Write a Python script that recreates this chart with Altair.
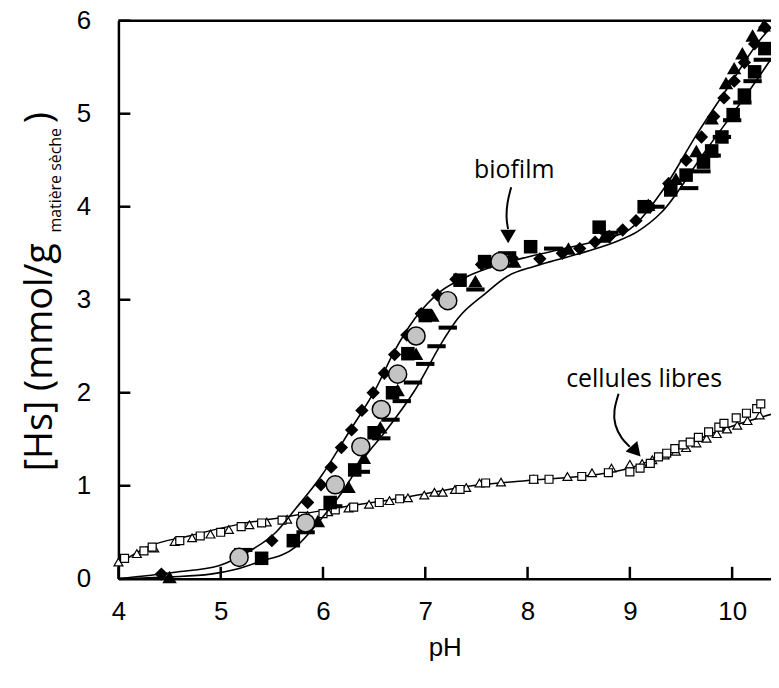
import altair as alt
import pandas as pd

# ---------------- data ----------------
X_TICKS = [4, 5, 6, 7, 8, 9, 10]
Y_TICKS = [0, 1, 2, 3, 4, 5, 6]

# free cells (cellules libres): open triangles
fc_tri_ph = [4.0, 4.18, 4.35, 4.55, 4.72, 4.9, 5.08, 5.28, 5.45, 5.65, 5.85, 6.05, 6.25, 6.45,
             6.65, 6.83, 6.99, 7.09, 7.17, 7.29, 7.4, 7.53, 7.74, 8.06, 8.39, 8.63, 8.82, 9.0,
             9.12, 9.22, 9.34, 9.45, 9.55, 9.65, 9.75, 9.85, 9.95, 10.05, 10.15, 10.27]
fc_tri_v = [0.18, 0.27, 0.33, 0.4, 0.44, 0.48, 0.53, 0.58, 0.61, 0.64, 0.68, 0.72, 0.76, 0.8,
            0.84, 0.87, 0.9, 0.93, 0.93, 0.96, 0.98, 1.03, 1.04, 1.07, 1.1, 1.14, 1.19, 1.23,
            1.24, 1.28, 1.33, 1.37, 1.41, 1.46, 1.51, 1.56, 1.61, 1.65, 1.7, 1.76]
# free cells: open squares
fc_sq_ph = [4.06, 4.25, 4.33, 4.6, 4.8, 5.0, 5.2, 5.4, 5.6, 5.8, 6.0, 6.12, 6.3, 6.55, 6.75,
            7.34, 7.59, 8.06, 8.21, 8.53, 8.79, 9.0, 9.1, 9.2, 9.28, 9.36, 9.44, 9.52, 9.59,
            9.67, 9.77, 9.87, 9.92, 10.04, 10.14, 10.24, 10.28]
fc_sq_v = [0.22, 0.3, 0.34, 0.41, 0.46, 0.5, 0.56, 0.6, 0.63, 0.67, 0.7, 0.74, 0.77, 0.82, 0.86,
           0.96, 1.03, 1.07, 1.07, 1.1, 1.14, 1.15, 1.19, 1.24, 1.31, 1.35, 1.4, 1.44, 1.47,
           1.52, 1.58, 1.63, 1.67, 1.73, 1.78, 1.83, 1.88]
# free cells: model curve
fc_line_ph = [4.0, 4.3, 4.69, 5.2, 5.66, 6.18, 6.83, 7.39, 8.03, 8.68, 9.0, 9.33, 9.82, 10.42]
fc_line_v = [0.16, 0.35, 0.46, 0.59, 0.67, 0.77, 0.88, 0.99, 1.06, 1.12, 1.19, 1.33, 1.57, 1.78]

# biofilm: filled diamonds
bf_dia_ph = [4.42, 5.5, 5.85, 5.98, 6.08, 6.18, 6.28, 6.38, 6.49, 6.6, 6.7, 6.82, 6.96, 7.12,
             7.3, 7.55, 7.85, 8.12, 8.34, 8.51, 8.66, 8.8, 8.93, 9.06, 9.2, 9.38, 9.55, 9.7,
             9.82, 9.92, 10.02, 10.12, 10.22, 10.32]
bf_dia_v = [0.05, 0.41, 0.82, 1.01, 1.2, 1.41, 1.6, 1.81, 2.0, 2.21, 2.41, 2.62, 2.85, 3.05,
            3.22, 3.38, 3.45, 3.44, 3.5, 3.55, 3.62, 3.68, 3.75, 3.85, 4.0, 4.25, 4.5, 4.75,
            4.97, 5.17, 5.35, 5.55, 5.75, 5.93]
# biofilm: filled squares
bf_sq_ph = [5.4, 5.71, 6.07, 6.31, 6.5, 6.68, 6.83, 7.0, 7.34, 7.58, 8.03, 8.7, 9.14, 9.4,
            9.55, 9.72, 9.8, 9.9, 10.01, 10.12, 10.22, 10.32]
bf_sq_v = [0.22, 0.41, 0.82, 1.17, 1.57, 2.0, 2.42, 2.83, 3.21, 3.41, 3.57, 3.78, 4.0, 4.18,
           4.34, 4.48, 4.6, 4.75, 4.99, 5.2, 5.45, 5.7]
# biofilm: filled triangles
bf_tri_ph = [4.5, 5.95, 6.25, 6.4, 6.56, 6.73, 6.91, 7.07, 7.49, 7.87, 8.4, 8.75, 9.18, 9.45,
             9.65, 9.8, 9.94, 10.02, 10.1, 10.2, 10.31]
bf_tri_v = [0.02, 0.62, 0.99, 1.3, 1.63, 2.03, 2.42, 2.83, 3.2, 3.41, 3.55, 3.68, 4.02, 4.3,
            4.6, 4.95, 5.33, 5.49, 5.65, 5.84, 5.95]
# biofilm: grey circles
bf_circ_ph = [5.18, 5.83, 6.12, 6.37, 6.57, 6.73, 6.91, 7.22, 7.73]
bf_circ_v = [0.23, 0.6, 1.01, 1.42, 1.82, 2.2, 2.61, 2.99, 3.41]
# biofilm: dashes
bf_dash_ph = [5.22, 5.83, 6.1, 6.37, 6.57, 6.66, 6.77, 6.88, 7.0, 7.11, 7.22, 7.49, 7.8, 8.25,
              8.8, 9.25, 9.58, 9.7, 9.8, 9.9, 10.0, 10.1, 10.2, 10.3]
bf_dash_v = [0.31, 0.5, 0.78, 1.15, 1.51, 1.71, 1.91, 2.11, 2.31, 2.5, 2.7, 3.11, 3.5, 3.55,
             3.72, 4.0, 4.2, 4.38, 4.55, 4.75, 4.93, 5.12, 5.35, 5.58]
# biofilm: model curves (upper and lower)
bf_up_ph = [4.0, 4.55, 4.98, 5.27, 5.54, 5.73, 5.98, 6.25, 6.51, 6.7, 6.9, 7.15, 7.41, 7.7,
            8.0, 8.36, 8.7, 9.0, 9.33, 9.65, 9.97, 10.3, 10.42]
bf_up_v = [0.0, 0.07, 0.14, 0.29, 0.5, 0.75, 1.1, 1.57, 2.03, 2.45, 2.8, 3.09, 3.25, 3.37,
           3.46, 3.55, 3.64, 3.76, 4.19, 4.77, 5.3, 5.83, 5.97]
bf_lo_ph = [4.0, 4.5, 4.9, 5.18, 5.37, 5.73, 5.98, 6.18, 6.41, 6.6, 6.9, 7.19, 7.32, 7.58,
            7.8, 8.07, 8.29, 8.58, 8.9, 9.07, 9.31, 9.72, 10.22, 10.43]
bf_lo_v = [0.0, 0.02, 0.05, 0.11, 0.18, 0.34, 0.64, 0.92, 1.31, 1.57, 2.03, 2.59, 2.8, 3.06,
           3.25, 3.36, 3.43, 3.52, 3.64, 3.73, 3.94, 4.57, 5.33, 5.67]

# annotations
ann_text = ["biofilm", "cellules libres"]
ann_ph = [7.87, 9.14]
ann_v = [4.39, 2.15]
arrow1_ph = [7.84, 7.80, 7.79, 7.81]
arrow1_v = [4.21, 4.05, 3.87, 3.76]
arrow2_ph = [8.89, 8.84, 8.85, 8.92, 9.0]
arrow2_v = [1.99, 1.81, 1.65, 1.5, 1.42]
head_ph = [7.81, 9.06]
head_v = [3.68, 1.37]
head_angle = [0, 318]

# ---------------- chart ----------------
W, H = 656, 561
TICK_FONT = "Liberation Sans"
TEXT_FONT = "Open Sans"


def frame(ph, v, **extra):
    d = pd.DataFrame({"pH": ph, "Hs": v})
    for k, val in extra.items():
        d[k] = val
    return d


xs = alt.Scale(domain=[4, 10.38], nice=False, zero=False)
ys = alt.Scale(domain=[0, 6], nice=False, zero=False)
X = alt.X("pH:Q", scale=xs,
          axis=alt.Axis(values=X_TICKS, title="pH", ticks=False, grid=False,
                        labelFont=TICK_FONT, labelFontSize=26, labelColor="black",
                        labelPadding=20, labelFlush=False,
                        titleFont=TICK_FONT, titleFontSize=26, titleFontWeight="normal",
                        titleColor="black", titlePadding=10,
                        domainColor="black", domainWidth=2.5))
Y = alt.Y("Hs:Q", scale=ys,
          axis=alt.Axis(values=Y_TICKS, title=None, ticks=False, grid=False,
                        labelFont=TICK_FONT, labelFontSize=26, labelColor="black",
                        labelPadding=28, labelFlush=False,
                        domainColor="black", domainWidth=2.5))

one = pd.DataFrame({"k": [0]})

fc_line = alt.Chart(frame(fc_line_ph, fc_line_v)).mark_line(
    color="black", strokeWidth=1.5, interpolate="monotone").encode(x=X, y=Y)
fc_tri = alt.Chart(frame(fc_tri_ph, fc_tri_v)).mark_point(
    shape="triangle-up", size=80, filled=True, fill="white", stroke="black",
    strokeWidth=1.2, opacity=1).encode(x=X, y=Y)
fc_sq = alt.Chart(frame(fc_sq_ph, fc_sq_v)).mark_point(
    shape="square", size=64, filled=True, fill="white", stroke="black",
    strokeWidth=1.2, opacity=1).encode(x=X, y=Y)

bf_up = alt.Chart(frame(bf_up_ph, bf_up_v)).mark_line(
    color="black", strokeWidth=1.6, interpolate="monotone").encode(x=X, y=Y)
bf_lo = alt.Chart(frame(bf_lo_ph, bf_lo_v)).mark_line(
    color="black", strokeWidth=1.6, interpolate="monotone").encode(x=X, y=Y)

DASH = "M-1,-0.22L1,-0.22L1,0.22L-1,0.22Z"
bf_dash = alt.Chart(frame(bf_dash_ph, bf_dash_v)).mark_point(
    shape=DASH, size=340, filled=True, color="black", opacity=1).encode(x=X, y=Y)
bf_sq = alt.Chart(frame(bf_sq_ph, bf_sq_v)).mark_point(
    shape="square", size=185, filled=True, color="black", opacity=1).encode(x=X, y=Y)
bf_tri = alt.Chart(frame(bf_tri_ph, bf_tri_v)).mark_point(
    shape="triangle-up", size=210, filled=True, color="black", opacity=1).encode(x=X, y=Y)
bf_dia = alt.Chart(frame(bf_dia_ph, bf_dia_v)).mark_point(
    shape="diamond", size=180, filled=True, color="black", opacity=1).encode(x=X, y=Y)
bf_circ = alt.Chart(frame(bf_circ_ph, bf_circ_v)).mark_point(
    shape="circle", size=330, filled=True, fill="#c4c4c4", stroke="black",
    strokeWidth=1.5, opacity=1).encode(x=X, y=Y)

ann = alt.Chart(frame(ann_ph, ann_v, label=ann_text)).mark_text(
    font=TEXT_FONT, fontSize=25, color="black", align="center", baseline="middle"
).encode(x=X, y=Y, text="label:N")
arrow1 = alt.Chart(frame(arrow1_ph, arrow1_v, o=list(range(len(arrow1_ph))))).mark_line(
    color="black", strokeWidth=2, interpolate="basis").encode(x=X, y=Y, order="o:Q")
arrow2 = alt.Chart(frame(arrow2_ph, arrow2_v, o=list(range(len(arrow2_ph))))).mark_line(
    color="black", strokeWidth=2, interpolate="basis").encode(x=X, y=Y, order="o:Q")
heads = alt.Chart(frame(head_ph, head_v, a=head_angle)).mark_point(
    shape="triangle-down", size=250, filled=True, color="black", opacity=1
).encode(x=X, y=Y, angle=alt.Angle("a:Q", scale=None))

# frame pieces: top border and inward ticks
top_border = alt.Chart(one).mark_rule(color="black", strokeWidth=2.5).encode(
    x=alt.value(0), x2=alt.value(W), y=alt.value(0))
xt = alt.Chart(pd.DataFrame({"pH": X_TICKS})).mark_rule(color="black", strokeWidth=2.5).encode(
    x=X, y=alt.value(H), y2=alt.value(H - 12))
yt = alt.Chart(pd.DataFrame({"Hs": Y_TICKS})).mark_rule(color="black", strokeWidth=2.5).encode(
    y=Y, x=alt.value(0), x2=alt.value(12))

# y-axis title with subscript
TX = -67
t_main = alt.Chart(one).mark_text(
    text="[Hs] (mmol/g", font=TEXT_FONT, fontSize=38, angle=270, align="left",
    baseline="alphabetic", color="black").encode(x=alt.value(TX), y=alt.value(453))
t_sub = alt.Chart(one).mark_text(
    text="matière sèche", font=TEXT_FONT, fontSize=16, angle=270, align="left",
    baseline="alphabetic", color="black").encode(x=alt.value(TX + 9), y=alt.value(213))
t_end = alt.Chart(one).mark_text(
    text=")", font=TEXT_FONT, fontSize=38, angle=270, align="left",
    baseline="alphabetic", color="black").encode(x=alt.value(TX), y=alt.value(103))

chart = alt.layer(
    fc_line, fc_tri, fc_sq, bf_up, bf_lo, bf_dash, bf_sq, bf_tri, bf_dia, bf_circ,
    arrow1, arrow2, heads, ann, top_border, xt, yt, t_main, t_sub, t_end
).properties(
    width=W, height=H,
    autosize=alt.AutoSizeParams(type="none"),
    padding={"left": 111, "top": 11, "right": 0, "bottom": 100},
).configure_view(stroke=None).configure(background="white")

chart.save("out.html", embed_options={"renderer": "svg", "actions": False})
